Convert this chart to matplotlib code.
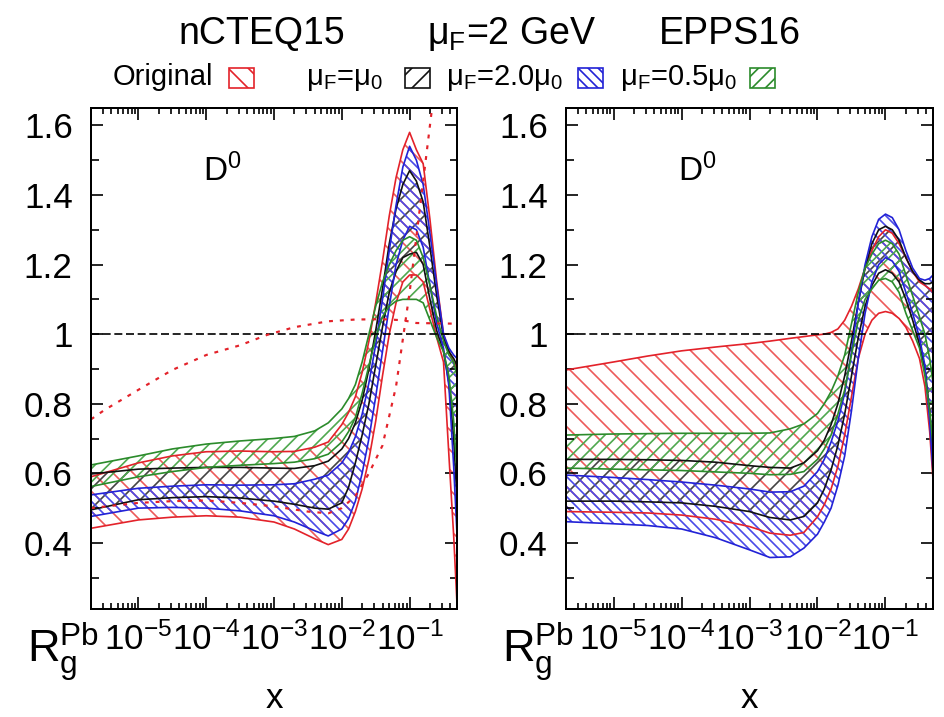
# D0 gluon reweighting plot: nCTEQ15 (left) and EPPS16 (right), mu_F = 2 GeV
import numpy as np
import matplotlib.pyplot as plt
from matplotlib.patches import Rectangle
from matplotlib.ticker import LogLocator, MultipleLocator, NullFormatter, FuncFormatter

plt.rcParams['font.family'] = ['Liberation Sans', 'DejaVu Sans']
plt.rcParams['mathtext.fontset'] = 'custom'
plt.rcParams['mathtext.rm'] = 'Liberation Sans'
plt.rcParams['mathtext.it'] = 'Liberation Sans:italic'
plt.rcParams['mathtext.bf'] = 'Liberation Sans:bold'
plt.rcParams['hatch.linewidth'] = 1.0

# ── Data ──────────────────────────────────────────────────────────────────────
LOG_X = [-5.7, -5.0, -4.5, -4.0, -3.5, -3.0, -2.7, -2.4, -2.2, -2.0,
         -1.9, -1.8, -1.7, -1.6, -1.5, -1.4, -1.3, -1.2, -1.1, -1.0,
         -0.9, -0.8, -0.7, -0.6, -0.5, -0.42, -0.35, -0.3]

# nCTEQ15 panel
L_RED_HI   = [0.590, 0.630, 0.650, 0.662, 0.664, 0.662, 0.663, 0.675, 0.690, 0.740,
              0.775, 0.820, 0.890, 0.980, 1.090, 1.210, 1.340, 1.450, 1.530, 1.580,
              1.530, 1.490, 1.330, 1.150, 1.000, 0.950, 0.920, 0.900]
L_RED_LO   = [0.442, 0.466, 0.474, 0.478, 0.474, 0.460, 0.440, 0.412, 0.395, 0.410,
              0.440, 0.490, 0.555, 0.640, 0.750, 0.880, 1.000, 1.090, 1.150, 1.170,
              1.170, 1.150, 1.070, 0.990, 0.920, 0.650, 0.420, 0.220]
L_BLACK_HI = [0.598, 0.612, 0.615, 0.617, 0.617, 0.615, 0.614, 0.622, 0.635, 0.670,
              0.700, 0.745, 0.810, 0.900, 1.010, 1.130, 1.260, 1.360, 1.430, 1.470,
              1.440, 1.380, 1.250, 1.110, 0.990, 0.950, 0.930, 0.910]
L_BLACK_LO = [0.495, 0.524, 0.530, 0.533, 0.529, 0.520, 0.511, 0.500, 0.497, 0.515,
              0.560, 0.630, 0.710, 0.800, 0.910, 1.020, 1.120, 1.180, 1.220, 1.230,
              1.235, 1.200, 1.100, 1.010, 0.950, 0.860, 0.700, 0.520]
L_BLUE_HI  = [0.538, 0.557, 0.563, 0.567, 0.566, 0.567, 0.570, 0.583, 0.595, 0.630,
              0.660, 0.705, 0.770, 0.860, 0.970, 1.100, 1.240, 1.370, 1.480, 1.540,
              1.500, 1.430, 1.290, 1.140, 1.000, 0.960, 0.940, 0.930]
L_BLUE_LO  = [0.476, 0.500, 0.502, 0.500, 0.492, 0.478, 0.460, 0.435, 0.420, 0.440,
              0.470, 0.520, 0.600, 0.700, 0.820, 0.950, 1.080, 1.200, 1.270, 1.310,
              1.300, 1.250, 1.140, 1.030, 0.960, 0.850, 0.620, 0.420]
L_GREEN_HI = [0.624, 0.650, 0.670, 0.684, 0.693, 0.700, 0.706, 0.722, 0.745, 0.785,
              0.815, 0.855, 0.920, 1.000, 1.080, 1.150, 1.200, 1.240, 1.270, 1.280,
              1.270, 1.220, 1.140, 1.050, 0.980, 0.940, 0.920, 0.880]
L_GREEN_LO = [0.562, 0.590, 0.605, 0.617, 0.623, 0.628, 0.632, 0.642, 0.655, 0.690,
              0.720, 0.760, 0.830, 0.910, 0.990, 1.050, 1.080, 1.095, 1.100, 1.100,
              1.100, 1.090, 1.040, 0.990, 0.950, 0.880, 0.750, 0.600]

# dotted red curves (original nCTEQ15 bounds)
LOG_X_DOT1 = [-5.7, -5.5, -5.0, -4.5, -4.0, -3.5, -3.1, -2.7, -2.2, -1.8, -1.4, -1.1, -0.9, -0.3]
L_DOT1     = [0.755, 0.782, 0.840, 0.897, 0.940, 0.968, 0.998, 1.020, 1.037, 1.042,
              1.043, 1.040, 1.032, 1.030]
LOG_X_DOT2 = [-5.7, -5.0, -4.5, -4.0, -3.5, -3.0, -2.5, -2.2, -2.0, -1.8, -1.6, -1.4,
              -1.2, -1.0, -0.8, -0.65]
L_DOT2     = [0.500, 0.515, 0.520, 0.522, 0.515, 0.505, 0.490, 0.485, 0.500, 0.535,
              0.600, 0.680, 0.850, 1.120, 1.440, 1.680]

# EPPS16 panel
R_RED_HI   = [0.897, 0.920, 0.937, 0.952, 0.963, 0.973, 0.980, 0.988, 0.993, 0.998,
              1.000, 1.005, 1.015, 1.040, 1.080, 1.130, 1.190, 1.240, 1.280, 1.300,
              1.290, 1.260, 1.220, 1.180, 1.150, 1.140, 1.130, 1.120]
R_RED_LO   = [0.490, 0.488, 0.486, 0.480, 0.468, 0.447, 0.428, 0.422, 0.430, 0.475,
              0.510, 0.555, 0.620, 0.710, 0.820, 0.930, 1.000, 1.040, 1.060, 1.065,
              1.060, 1.045, 1.020, 0.980, 0.930, 0.850, 0.720, 0.580]
R_BLACK_HI = [0.640, 0.640, 0.639, 0.637, 0.632, 0.622, 0.617, 0.615, 0.630, 0.665,
              0.695, 0.740, 0.800, 0.880, 0.980, 1.090, 1.190, 1.260, 1.300, 1.310,
              1.300, 1.270, 1.220, 1.180, 1.155, 1.145, 1.145, 1.150]
R_BLACK_LO = [0.520, 0.520, 0.518, 0.515, 0.505, 0.490, 0.473, 0.466, 0.476, 0.515,
              0.555, 0.610, 0.680, 0.770, 0.880, 0.990, 1.080, 1.140, 1.175, 1.185,
              1.175, 1.150, 1.100, 1.040, 0.970, 0.900, 0.780, 0.650]
R_BLUE_HI  = [0.595, 0.588, 0.582, 0.575, 0.566, 0.555, 0.546, 0.547, 0.563, 0.605,
              0.640, 0.690, 0.750, 0.830, 0.950, 1.090, 1.200, 1.280, 1.330, 1.345,
              1.335, 1.300, 1.240, 1.190, 1.160, 1.155, 1.160, 1.170]
R_BLUE_LO  = [0.461, 0.455, 0.450, 0.440, 0.415, 0.380, 0.358, 0.360, 0.385, 0.425,
              0.460, 0.500, 0.565, 0.650, 0.780, 0.930, 1.060, 1.150, 1.200, 1.220,
              1.210, 1.180, 1.120, 1.060, 0.990, 0.910, 0.750, 0.600]
R_GREEN_HI = [0.710, 0.713, 0.714, 0.715, 0.715, 0.715, 0.716, 0.728, 0.742, 0.772,
              0.800, 0.835, 0.880, 0.940, 1.030, 1.120, 1.190, 1.230, 1.260, 1.270,
              1.260, 1.230, 1.170, 1.110, 1.050, 1.000, 0.930, 0.860]
R_GREEN_LO = [0.615, 0.612, 0.610, 0.608, 0.604, 0.600, 0.596, 0.597, 0.605, 0.640,
              0.670, 0.710, 0.770, 0.840, 0.940, 1.040, 1.100, 1.130, 1.155, 1.160,
              1.150, 1.120, 1.060, 1.010, 0.960, 0.880, 0.780, 0.680]

LEGEND_LABELS = ['Original', r'μ$_\mathregular{F}$=μ$_\mathregular{0}$',
                 r'μ$_\mathregular{F}$=2.0μ$_\mathregular{0}$',
                 r'μ$_\mathregular{F}$=0.5μ$_\mathregular{0}$']

# ── Styles ────────────────────────────────────────────────────────────────────
RED, BLACK, BLUE, GREEN = '#e3222a', '#111111', '#2222d6', '#2b8b2b'
HATCH_COL = {RED: '#ec5a5a', BLACK: '#444444', BLUE: '#4a4ae8', GREEN: '#4fa84f'}
HATCH = {RED: '\\\\', BLACK: '//', BLUE: '\\\\\\\\', GREEN: '///'}
COLORS = [RED, BLACK, BLUE, GREEN]

x = 10.0 ** np.array(LOG_X)

W, H = 944, 717
fig = plt.figure(figsize=(W / 120, H / 120), dpi=120)

def px_box(x0, x1, y_top, y_bot):
    return [x0 / W, 1 - y_bot / H, (x1 - x0) / W, (y_bot - y_top) / H]

ax_l = fig.add_axes(px_box(91, 457, 108, 609))
ax_r = fig.add_axes(px_box(566, 933, 108, 609))

left_bands = [(L_RED_LO, L_RED_HI), (L_BLACK_LO, L_BLACK_HI),
              (L_BLUE_LO, L_BLUE_HI), (L_GREEN_LO, L_GREEN_HI)]
right_bands = [(R_RED_LO, R_RED_HI), (R_BLACK_LO, R_BLACK_HI),
               (R_BLUE_LO, R_BLUE_HI), (R_GREEN_LO, R_GREEN_HI)]

for ax, bands in [(ax_l, left_bands), (ax_r, right_bands)]:
    for (lo, hi), c in zip(bands, COLORS):
        ax.fill_between(x, lo, hi, facecolor='none', edgecolor=HATCH_COL[c],
                        hatch=HATCH[c], linewidth=0)
        ax.plot(x, lo, color=c, lw=1.0)
        ax.plot(x, hi, color=c, lw=1.0)
    ax.axhline(1.0, color='black', lw=1.0, dashes=(4.8, 2.2))

ax_l.plot(10.0 ** np.array(LOG_X_DOT1), L_DOT1, color=RED, lw=1.3, dashes=(1.8, 3.2))
ax_l.plot(10.0 ** np.array(LOG_X_DOT2), L_DOT2, color=RED, lw=1.3, dashes=(1.8, 3.2))

for ax in (ax_l, ax_r):
    ax.set_xscale('log')
    ax.set_xlim(2e-6, 0.5)
    ax.set_ylim(0.21, 1.65)
    ax.xaxis.set_major_locator(LogLocator(base=10, numticks=20))
    ax.xaxis.set_minor_locator(LogLocator(base=10, subs=np.arange(2, 10), numticks=20))
    ax.xaxis.set_minor_formatter(NullFormatter())
    ax.yaxis.set_major_locator(MultipleLocator(0.2))
    ax.yaxis.set_minor_locator(MultipleLocator(0.1))
    ax.yaxis.set_major_formatter(FuncFormatter(lambda v, p: f'{v:g}'))
    ax.tick_params(which='both', direction='in', top=True, right=True, width=1.0)
    ax.tick_params(which='major', length=7.2, labelsize=21)
    ax.tick_params(axis='x', which='minor', length=3.6)
    ax.tick_params(axis='y', which='minor', length=4.5)
    ax.tick_params(axis='x', pad=8)
    ax.tick_params(axis='y', pad=11)
    for s in ax.spines.values():
        s.set_linewidth(1.2)
    ax.text(0.358, 0.875, r'D$^\mathregular{0}$', transform=ax.transAxes,
            fontsize=20, ha='center', va='center')
    ax.text(0.5, -0.178, 'x', transform=ax.transAxes, fontsize=21,
            ha='center', va='center')

# R_g^Pb axis titles
for x0 in (27, 502):
    fig.text(x0 / W, 1 - 663 / H, r'$\mathregular{R_g^{Pb}}$', fontsize=27,
             ha='left', va='baseline')

# titles
fig.text(262 / W, 1 - 44 / H, 'nCTEQ15', fontsize=22.5, ha='center', va='baseline')
fig.text(512 / W, 1 - 44 / H, r'μ$_\mathregular{F}$=2 GeV', fontsize=22.5,
         ha='center', va='baseline')
fig.text(730 / W, 1 - 44 / H, 'EPPS16', fontsize=22.5, ha='center', va='baseline')

# legend row: text then hatched sample box
text_x = [113, 306, 446, 620]
box_x = [229, 405, 578, 750]
for lab, tx, bx, c in zip(LEGEND_LABELS, text_x, box_x, COLORS):
    fig.text(tx / W, 1 - 85 / H, lab, fontsize=17.5, ha='left', va='baseline')
    fig.add_artist(Rectangle((bx / W, 1 - 88 / H), 25 / W, 20 / H,
                             transform=fig.transFigure, facecolor='none',
                             edgecolor=c, hatch=HATCH[c], lw=1.0))

fig.savefig('out.png', dpi=120)
